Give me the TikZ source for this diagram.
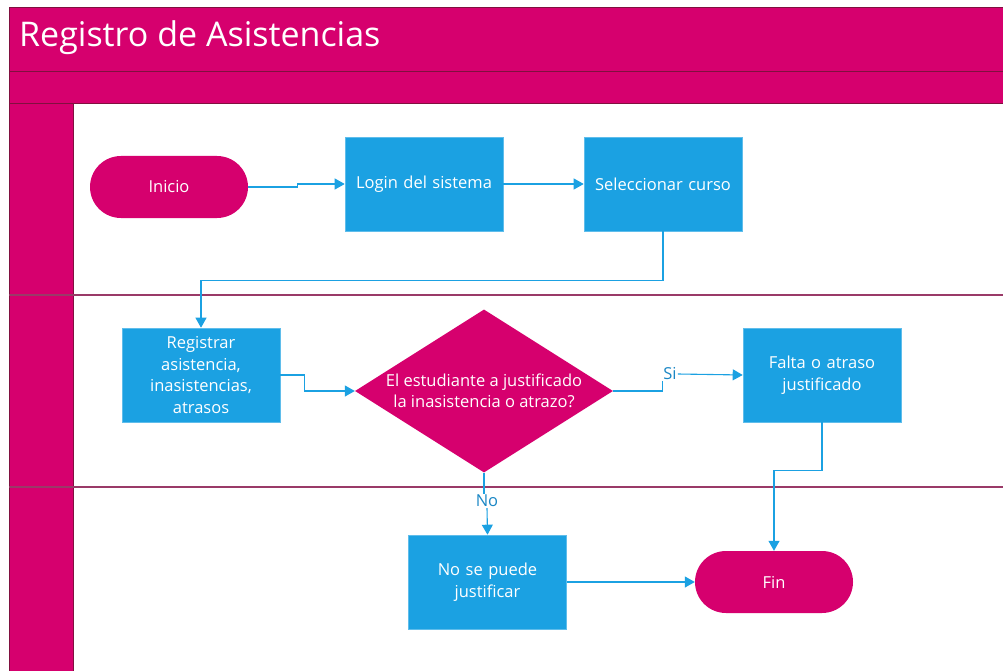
\documentclass[tikz,border=0pt]{standalone}
\usepackage{fontspec}
\setmainfont{Open Sans}
\usetikzlibrary{shapes.geometric,arrows.meta}
\definecolor{mag}{HTML}{D6006E}
\definecolor{magdark}{HTML}{80103F}
\definecolor{laneline}{HTML}{9A3A68}
\definecolor{blu}{HTML}{1BA1E2}
\definecolor{lbl}{HTML}{1B87C5}
\tikzset{
  procbox/.style={rectangle, fill=blu, draw=blu!70!white, line width=0.6pt, minimum width=158pt, minimum height=94pt, text=white, align=center, text width=150pt, inner sep=0pt, font=\fontsize{16.5}{21.5}\selectfont},
  termbox/.style={rectangle, rounded corners=31pt, fill=mag, minimum width=158pt, minimum height=62pt, text=white, align=center, inner sep=0pt, font=\fontsize{16.5}{21.5}\selectfont},
  decbox/.style={diamond, fill=mag, minimum width=258pt, minimum height=163pt, inner sep=0pt, aspect=1.58},
  conn/.style={draw=blu, line width=1.1pt, -{Triangle[length=10pt,width=11pt]}},
  plainconn/.style={draw=blu, line width=1.1pt},
  lanesep/.style={draw=laneline, line width=1.8pt},
  edgelbl/.style={text=lbl, fill=white, inner sep=1pt, font=\fontsize{16.5}{19}\selectfont}
}
\begin{document}
\begin{tikzpicture}[x=1pt,y=-1pt]
\useasboundingbox (0,0) rectangle (1003,671);
\fill[white] (0,0) rectangle (1003,671);
% pool frame
\fill[mag] (9,8) rectangle (1003,104);
\fill[mag] (9,104) rectangle (73,671);
\draw[magdark, line width=1pt] (9,671) -- (9,8) -- (1003,8);
\draw[magdark, line width=1pt] (9,72) -- (1003,72);
\draw[magdark, line width=1pt] (9,104) -- (1003,104);
\draw[magdark, line width=1pt] (73,104) -- (73,671);
\draw[lanesep] (9,295) -- (1003,295);
\draw[lanesep] (9,487) -- (1003,487);
\node[anchor=west, text=white, font=\fontsize{34}{40}\selectfont, inner sep=0pt] (title) at (19,38) {Registro de Asistencias};

% nodes
\node[termbox] (ini) at (169,187) {Inicio};
\node[procbox] (login) at (424,184) {Login del sistema};
\node[procbox] (sel) at (663,184) {Seleccionar curso};
\node[procbox] (reg) at (201,375) {Registrar\\asistencia,\\inasistencias,\\atrasos};
\node[decbox] (dec) at (484,391) {};
\node[text=white, align=center, font=\fontsize{16.5}{21}\selectfont, inner sep=0pt] (dectext) at (484,391) {El estudiante a justificado\\la inasistencia o atrazo?};
\node[procbox] (falta) at (822,375) {Falta o atraso\\justificado};
\node[procbox] (nose) at (487.5,582) {No se puede\\justificar};
\node[termbox] (fin) at (774,582) {Fin};

% connectors
\draw[conn] (ini.east) -- ++(49,0) |- (login.west);
\draw[conn] (login.east) -- (sel.west);
\draw[conn] (sel.south) -- ++(0,49) -| (reg.north);
\draw[conn] (reg.east) -- ++(24,0) |- (dec.west);
\node[edgelbl] (si) at (670,374) {Si};
\draw[plainconn] (dec.east) -| (si.south west);
\draw[conn] (si.east) -- (falta.west);
\draw[conn] (falta.south) -- ++(0,48) -| (fin.north);
\node[edgelbl] (no) at (487,501) {No};
\draw[plainconn] (dec.south) -- (dec.south|-no.north);
\draw[conn] (no.south) -- (nose.north);
\draw[conn] (nose.east) -- (fin.west);
\end{tikzpicture}
\end{document}
